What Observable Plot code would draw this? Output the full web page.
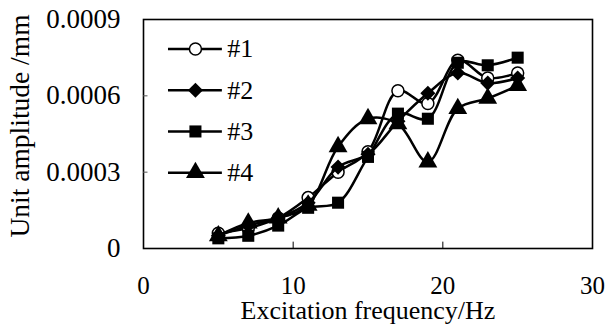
<!DOCTYPE html>
<html><head><meta charset="utf-8">
<script src="https://cdn.jsdelivr.net/npm/d3@7"></script>
<script src="https://cdn.jsdelivr.net/npm/@observablehq/plot@0.6"></script>
<style>
body{margin:0;background:#fff}
#chart svg, #chart svg text{font-family:"Liberation Serif","Times New Roman",serif !important;}
#chart svg text{fill:#000}
</style>
</head><body><div id="chart"></div>
<script>
const freq = [5, 7, 9, 11, 13, 15, 17, 19, 21, 23, 25];
const s1 = [0.00006, 0.00008, 0.00012, 0.00020, 0.00030, 0.00038, 0.00062, 0.00057, 0.00074, 0.00067, 0.00069];
const s2 = [0.00005, 0.00009, 0.00012, 0.00018, 0.00032, 0.00037, 0.00050, 0.00061, 0.00069, 0.00065, 0.00067];
const s3 = [0.00004, 0.00005, 0.00009, 0.00016, 0.00018, 0.00036, 0.00053, 0.00051, 0.00073, 0.00072, 0.00075];
const s4 = [0.00005, 0.00010, 0.00012, 0.00017, 0.00040, 0.00051, 0.00049, 0.00034, 0.00055, 0.00059, 0.00064];
const seriesNames = ["#1", "#2", "#3", "#4"];
const seriesValues = [s1, s2, s3, s4];
const symbols = ["circle", "diamond2", "square", "triangle"];
const fills = ["white", "black", "black", "black"];
const xTicks = [0, 10, 20, 30];
const yTicks = [0, 0.0003, 0.0006, 0.0009];
const yTickLabels = ["0", "0.0003", "0.0006", "0.0009"];
const xTitle = "Excitation frequency/Hz";
const yTitle = "Unit amplitude /mm";

const data = seriesNames.flatMap((name, i) => freq.map((f, j) => ({series: name, i, x: f, y: seriesValues[i][j]})));
const legend = seriesNames.map((name, i) => ({name, i, y: 0.000784 - i * 0.000162}));
const FF = "Liberation Serif";

const marks = [
  Plot.frame({stroke: "black", strokeWidth: 1.6}),
  Plot.ruleY(yTicks.slice(1, 3), {x1: 0, x2: 0.3, stroke: "#555", strokeWidth: 1}),
  Plot.ruleX(xTicks.slice(1, 3), {y1: 0, y2: 0.000025, stroke: "black", strokeWidth: 1}),
  Plot.axisX({ticks: xTicks, tickSize: 0, tickPadding: 28, fontSize: 25, fontFamily: FF, label: null}),
  Plot.axisX({ticks: [], tickSize: 0, fontSize: 26, fontFamily: FF, label: xTitle, labelAnchor: "center", labelOffset: 70, labelArrow: "none"}),
  Plot.axisY({ticks: yTicks, tickFormat: (d) => yTickLabels[yTicks.indexOf(d)], tickSize: 0, tickPadding: 23, fontSize: 27, fontFamily: FF, label: null}),
  Plot.text([yTitle], {text: d => d, frameAnchor: "left", dx: -123, dy: -8, rotate: -90, fontSize: 27.5, fontFamily: FF, fill: "black", textAnchor: "middle"})
];
seriesNames.forEach((name, i) => {
  const d = data.filter(p => p.i === i);
  marks.push(Plot.line(d, {x: "x", y: "y", stroke: "black", strokeWidth: 2.5, curve: "catmull-rom"}));
  marks.push(Plot.dot(d, {x: "x", y: "y", symbol: () => symbols[i], r: i === 0 ? 6 : (i === 3 ? 7 : 6.8), fill: fills[i], stroke: "black", strokeWidth: i === 0 ? 1.5 : 0}));
});
legend.forEach((l, i) => {
  marks.push(Plot.ruleY([l], {y: "y", x1: 1.67, x2: 5.27, stroke: "black", strokeWidth: 2.5}));
  marks.push(Plot.dot([l], {x: 3.47, y: "y", symbol: () => symbols[i], r: i === 0 ? 6 : (i === 3 ? 7 : 6.8), fill: fills[i], stroke: "black", strokeWidth: i === 0 ? 1.5 : 0}));
  marks.push(Plot.text([l], {x: 5.6, y: "y", text: "name", textAnchor: "start", fontSize: 26, fontFamily: FF, fill: "black"}));
});

const chart = Plot.plot({
  width: 607, height: 324,
  marginLeft: 143, marginRight: 15, marginTop: 19, marginBottom: 76,
  x: {domain: [0, 30]},
  y: {domain: [0, 0.0009]},
  style: "font-family: 'Liberation Serif', serif; color: black; background: white;",
  marks
});
document.getElementById("chart").appendChild(chart);
</script>
</body></html>
